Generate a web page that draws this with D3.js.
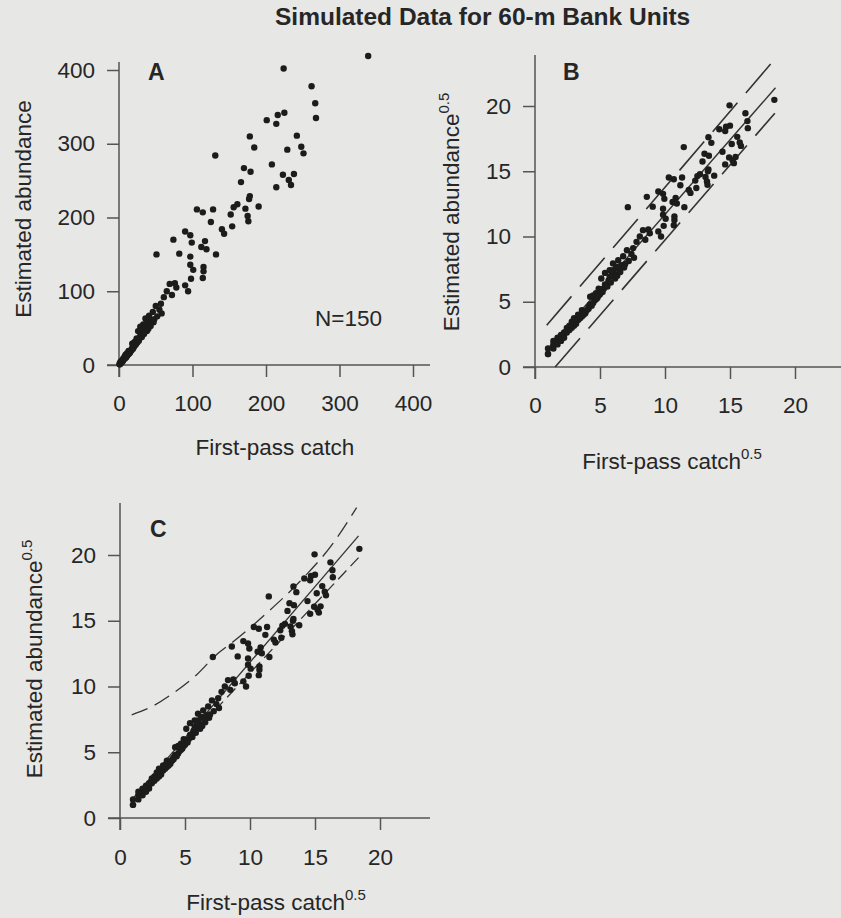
<!DOCTYPE html>
<html>
<head>
<meta charset="utf-8">
<script src="https://cdn.jsdelivr.net/npm/d3@7"></script>
<style>
    body { margin: 0; background: #e7e7e5; }
    svg { display: block; font-family: "Liberation Sans", Arial, sans-serif; }
</style>
</head>
<body>
<svg id="fig" width="841" height="918"></svg>
<script>
// First-pass catch and estimated abundance for the 150 simulated units
// (for large counts, off panel B for the small ones)
var firstPassCatch = [
    339, 224, 262, 267, 268, 225, 216, 214, 201, 178, 184, 242, 229, 248, 251,
    131, 208, 170, 179, 238, 223, 231, 234, 166, 214, 178, 177, 190, 161, 156,
    172, 128, 106, 114, 152, 175, 176, 125, 154, 140, 143, 90, 97, 117, 99,
    112, 74, 51, 82, 97, 119, 132, 97, 101, 115, 115, 114, 98, 94, 76,
    78, 69, 65, 72, 61, 57, 50, 46, 41, 36, 39, 33, 29, 33, 38, 26, 90,
    1, 1, 1, 2, 2, 2, 3, 3, 3, 4, 4, 4, 5, 5, 5, 6, 6, 6, 7, 7,
    8, 8, 8, 9, 9, 9, 10, 10, 11, 11, 12, 12, 13, 13, 14, 14, 15, 15, 16,
    17, 17, 18, 18, 19, 20, 20, 21, 22, 22, 23, 24, 24, 25, 26, 27, 28, 29,
    31, 32, 34, 35, 36, 39, 40, 43, 44, 48, 52, 55, 47, 42, 58
];
var estAbundance = [
    419, 402, 378, 355, 335, 342, 339, 327, 332, 310, 295, 311, 292, 296, 287,
    284, 272, 267, 262, 259, 258, 251, 244, 248, 241, 229, 225, 215, 218, 214,
    212, 211, 211, 207, 204, 202, 195, 194, 188, 184, 178, 181, 176, 168, 166,
    160, 170, 150, 151, 147, 157, 150, 136, 129, 133, 127, 118, 117, 100, 111,
    105, 110, 100, 95, 92, 83, 80, 72, 67, 63, 59, 55, 52, 48, 46, 46, 108,
    1, 1, 2, 2, 3, 4, 3, 4, 5, 4, 5, 6, 5, 6, 7, 7, 8, 9, 8, 10,
    9, 10, 12, 10, 11, 14, 11, 13, 13, 16, 14, 15, 15, 19, 16, 18, 18, 17, 19,
    21, 20, 23, 29, 22, 24, 30, 26, 27, 32, 28, 36, 30, 31, 35, 33, 36, 40,
    38, 44, 42, 50, 55, 50, 49, 53, 61, 62, 66, 75, 58, 55, 70
];

// Panel B lines (square-root scale), end points [x, y]
var bUpperLine = [[0.9, 3.2], [18.2, 23.3]];
var bFitLine = [[0.9, 1.3], [18.5, 21.4]];
var bLowerLine = [[1.55, 0], [18.45, 19.45]];

// Panel C lines
var cFitLine = [[0.9, 1.37], [18.35, 21.45]];
var cLowerLine = [[3.5, 4.2], [18.35, 19.8]];
var cUpperCurve = [[0.9, 7.85], [2.5, 8.5], [4.1, 9.5], [5.9, 10.9], [7.4, 12.4],
    [8.7, 13.4], [11.3, 15.6], [13.85, 18.0], [16.4, 20.9], [18.2, 23.6]];

var rawTicks = [0, 100, 200, 300, 400];
var sqrtTicks = [0, 5, 10, 15, 20];

var svg = d3.select("#fig");
var INK = "#262626";
var FONT = 22.5;

var raw_points = firstPassCatch.map(function (c, i) { return [c, estAbundance[i]]; });
var sqrt_points = raw_points.map(function (p) { return [Math.sqrt(p[0]), Math.sqrt(p[1])]; });

svg.append("text")
    .attr("x", 275).attr("y", 25)
    .attr("font-size", 24.5).attr("font-weight", "bold").attr("fill", INK)
    .text("Simulated Data for 60-m Bank Units");


function draw_panel(cfg) {
    var x = d3.scaleLinear().domain(cfg.xDomain).range(cfg.xRange);
    var y = d3.scaleLinear().domain(cfg.yDomain).range(cfg.yRange);
    var g = svg.append("g");

    var xg = g.append("g")
        .attr("transform", "translate(0," + y(0) + ")")
        .call(d3.axisBottom(x).tickValues(cfg.ticksX).tickSize(12).tickPadding(cfg.padX));
    var yg = g.append("g")
        .attr("transform", "translate(" + x(0) + ",0)")
        .call(d3.axisLeft(y).tickValues(cfg.ticksY).tickSize(12).tickPadding(12));

    [xg, yg].forEach(function (a) {
        a.select(".domain").remove();
        a.attr("font-family", null).attr("font-size", null);
        a.selectAll("line").attr("stroke", "#555").attr("stroke-width", 1.5);
        a.selectAll("text").attr("font-size", FONT).attr("fill", INK);
    });

    // axis lines run past the origin by one tick length, and on past the last tick
    g.append("line")
        .attr("x1", x(0) - 12).attr("x2", cfg.xEnd)
        .attr("y1", y(0)).attr("y2", y(0))
        .attr("stroke", "#555").attr("stroke-width", 1.5);
    g.append("line")
        .attr("x1", x(0)).attr("x2", x(0))
        .attr("y1", y(0) + 12).attr("y2", cfg.yEnd)
        .attr("stroke", "#555").attr("stroke-width", 1.5);

    var line = d3.line()
        .x(function (d) { return x(d[0]); })
        .y(function (d) { return y(d[1]); });

    (cfg.lines || []).forEach(function (l) {
        g.append("path")
            .attr("d", line.curve(l.curve || d3.curveLinear)(l.data))
            .attr("fill", "none")
            .attr("stroke", "#333")
            .attr("stroke-width", l.width)
            .attr("stroke-dasharray", l.dash);
    });

    g.append("g").selectAll("circle")
        .data(cfg.points)
        .enter().append("circle")
        .attr("cx", function (d) { return x(d[0]); })
        .attr("cy", function (d) { return y(d[1]); })
        .attr("r", 3.2)
        .attr("fill", "#1c1c1c");

    g.append("text")
        .attr("x", cfg.letter[0]).attr("y", cfg.letter[1])
        .attr("font-size", 23).attr("font-weight", "bold").attr("fill", INK)
        .text(cfg.letter[2]);

    var xt = g.append("text")
        .attr("x", cfg.xTitle[0]).attr("y", cfg.xTitle[1])
        .attr("text-anchor", "middle")
        .attr("font-size", FONT).attr("fill", INK)
        .text(cfg.xTitle[2]);
    var yt = g.append("text")
        .attr("transform", "translate(" + cfg.yTitle[0] + "," + cfg.yTitle[1] + ") rotate(-90)")
        .attr("text-anchor", "middle")
        .attr("font-size", FONT).attr("fill", INK)
        .text(cfg.yTitle[2]);
    if (cfg.sup) {
        [xt, yt].forEach(function (t) {
            t.append("tspan").attr("dy", -10).attr("font-size", 15).text("0.5");
        });
    }
    return g;
}


var panelA = draw_panel({
    xDomain: [0, 400], xRange: [119, 413], xEnd: 430,
    yDomain: [0, 400], yRange: [365, 70], yEnd: 62,
    ticksX: rawTicks, ticksY: rawTicks, padX: 18,
    points: raw_points,
    letter: [148, 80, "A"],
    xTitle: [275, 455, "First-pass catch"],
    yTitle: [31, 209, "Estimated abundance"]
});
panelA.append("text")
    .attr("x", 315).attr("y", 326)
    .attr("font-size", FONT).attr("fill", INK)
    .text("N=150");

draw_panel({
    xDomain: [0, 20], xRange: [535, 795], xEnd: 841,
    yDomain: [0, 20], yRange: [367, 106], yEnd: 55,
    ticksX: sqrtTicks, ticksY: sqrtTicks, padX: 18, sup: true,
    points: sqrt_points,
    letter: [563, 80, "B"],
    xTitle: [672, 469, "First-pass catch"],
    yTitle: [459, 212, "Estimated abundance"],
    lines: [
        {data: bUpperLine, width: 1.6, dash: "38,13"},
        {data: bFitLine, width: 1.4, dash: null},
        {data: bLowerLine, width: 1.6, dash: "38,13"}
    ]
});

draw_panel({
    xDomain: [0, 20], xRange: [120, 380], xEnd: 430,
    yDomain: [0, 20], yRange: [818, 555], yEnd: 503,
    ticksX: sqrtTicks, ticksY: sqrtTicks, padX: 19, sup: true,
    points: sqrt_points,
    letter: [150, 537, "C"],
    xTitle: [276, 910, "First-pass catch"],
    yTitle: [42, 659, "Estimated abundance"],
    lines: [
        {data: cUpperCurve, width: 1.3, dash: "17,8", curve: d3.curveMonotoneX},
        {data: cFitLine, width: 1.3, dash: null},
        {data: cLowerLine, width: 1.3, dash: "12,6"}
    ]
});
</script>
</body>
</html>
